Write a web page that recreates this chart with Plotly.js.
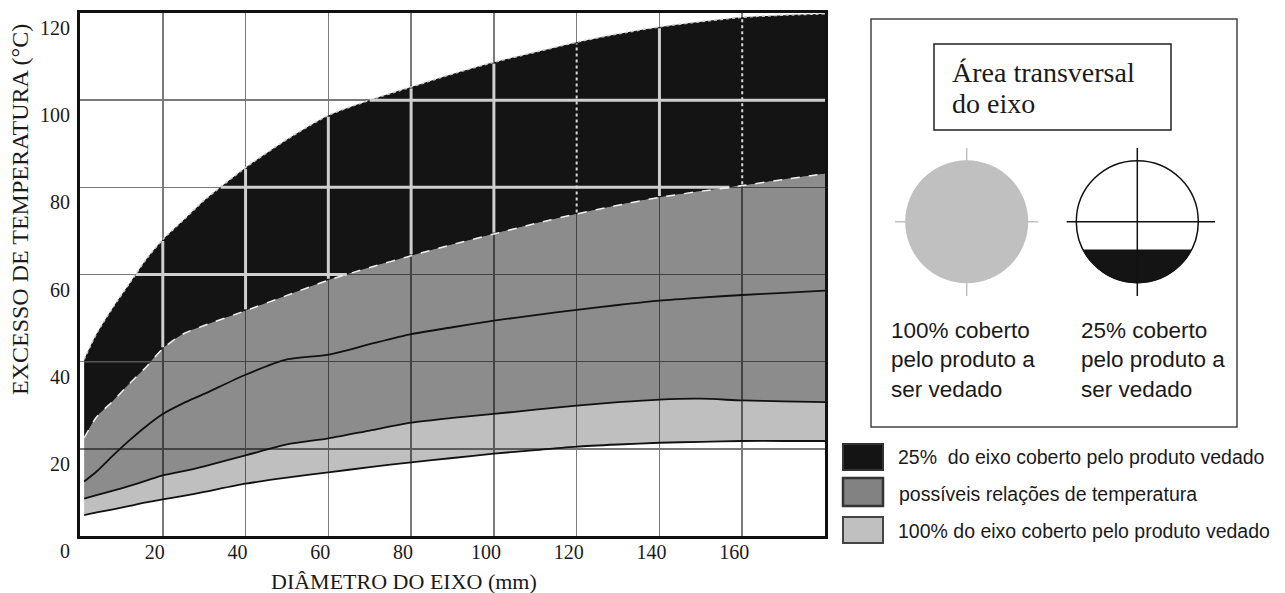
<!DOCTYPE html>
<html>
<head>
<meta charset="utf-8">
<script src="https://cdn.plot.ly/plotly-3.0.1.min.js"></script>
<style>html,body{margin:0;padding:0;background:#fff;}#chart{width:1285px;height:593px;}</style>
</head>
<body>
<div id="chart"></div>
<script>
// ---- data ----
const DIAMETER = [1,4,8,12,16,20,25,30,40,50,60,70,80,90,100,110,120,130,140,150,160,170,180];
// upper limit of the 25%-covered band (top of black area)
const UPPER_25 = [40.5,46.4,52.5,58,63.5,68,72.5,77,84.5,91,96.5,100,103,106,108.7,111,113.3,115.2,116.8,118,119,119.5,119.8];
// lower limit of the 25%-covered band (top of the dark grey area)
const LOWER_25 = [22.5,27.3,31,35,38.8,43,46.4,48.3,51.7,55.2,58.7,61.6,64.3,66.9,69.3,71.7,73.9,75.9,77.7,79.1,80.4,81.8,83.1];
// middle curve inside the "possible relations" area
const MIDDLE = [12.5,14.8,18.5,22,25.2,28,30.5,32.6,37,40.5,41.6,44,46.3,47.9,49.4,50.7,51.9,53,54,54.7,55.3,55.8,56.3];
// upper limit of the 100%-covered band
const UPPER_100 = [8.6,9.4,10.4,11.5,12.7,13.9,14.9,16,18.5,21,22.4,24.2,26,27.1,28,29,29.9,30.7,31.3,31.5,31.1,30.9,30.7];
// lower limit of the 100%-covered band
const LOWER_100 = [4.8,5.4,6.1,6.9,7.7,8.4,9.2,10.1,12,13.4,14.6,15.8,16.9,17.9,18.9,19.7,20.5,21,21.4,21.6,21.8,21.8,21.8];

const X_TICKS = [20,40,60,80,100,120,140,160];
const X_TICK_TEXT = ['20','40','60','80','100','120','140','160'];
const Y_TICKS = [0,20,40,60,80,100,120];
const Y_TICK_TEXT = ['0','20','40','60','80','100','120'];

const LEGEND_LABELS = ['25%  do eixo coberto pelo produto vedado','possíveis relações de temperatura','100% do eixo coberto pelo produto vedado'];
const X_TITLE = 'DIÂMETRO DO EIXO (mm)';
const Y_TITLE = 'EXCESSO DE TEMPERATURA (°C)';

// ---- helpers ----
function valAt(xs, ys, x){
  for (let i=0;i<xs.length-1;i++){
    if (x>=xs[i] && x<=xs[i+1]){ const t=(x-xs[i])/(xs[i+1]-xs[i]); return ys[i]+t*(ys[i+1]-ys[i]); }
  }
  return x<xs[0]?ys[0]:ys[ys.length-1];
}
function crossAt(xs, ys, y){
  for (let i=0;i<xs.length-1;i++){
    if ((ys[i]-y)*(ys[i+1]-y)<=0 && ys[i]!==ys[i+1]){ const t=(y-ys[i])/(ys[i+1]-ys[i]); return xs[i]+t*(xs[i+1]-xs[i]); }
  }
  return null;
}
const XMAX = 180;
// light grid segments inside the black band
const lightX=[], lightY=[], dotX=[], dotY=[], darkX=[], darkY=[];
X_TICKS.forEach(function(xv){
  const a=valAt(DIAMETER,LOWER_25,xv)+0.3, b=valAt(DIAMETER,UPPER_25,xv)-0.3;
  const tx = (xv===120||xv===160)?dotX:lightX, ty=(xv===120||xv===160)?dotY:lightY;
  tx.push(xv,xv,null); ty.push(a,b,null);
});
[40,60,80,100].forEach(function(yv){
  let xa = crossAt(DIAMETER,UPPER_25,yv); if (xa===null) xa = DIAMETER[0];
  let xb = crossAt(DIAMETER,LOWER_25,yv); if (xb===null) xb = XMAX;
  const tx = yv===40?darkX:lightX, ty = yv===40?darkY:lightY;
  tx.push(xa,xb,null); ty.push(yv,yv,null);
});

const SP = {shape:'spline',smoothing:0.7};
function ln(o){return Object.assign({shape:'spline',smoothing:0.7},o);}
const traces = [
  {x:DIAMETER,y:LOWER_100,mode:'lines',line:ln({width:0}),hoverinfo:'skip',showlegend:false},
  {x:DIAMETER,y:UPPER_100,mode:'lines',line:ln({width:0}),fill:'tonexty',fillcolor:'rgba(0,0,0,0.25)',hoverinfo:'skip',showlegend:false},
  {x:DIAMETER,y:LOWER_25,mode:'lines',line:ln({width:0}),fill:'tonexty',fillcolor:'rgba(0,0,0,0.45)',hoverinfo:'skip',showlegend:false},
  {x:DIAMETER,y:UPPER_25,mode:'lines',line:ln({width:0}),fill:'tonexty',fillcolor:'#141414',hoverinfo:'skip',showlegend:false},
  {x:lightX,y:lightY,mode:'lines',line:{color:'#cfcfcf',width:3},connectgaps:false,hoverinfo:'skip',showlegend:false},
  {x:dotX,y:dotY,mode:'lines',line:{color:'#d8d8d8',width:2,dash:'dot'},connectgaps:false,hoverinfo:'skip',showlegend:false},
  {x:darkX,y:darkY,mode:'lines',line:{color:'#555',width:1.5},connectgaps:false,hoverinfo:'skip',showlegend:false},
  {x:DIAMETER,y:LOWER_100,mode:'lines',line:ln({color:'#111',width:1.8}),showlegend:false},
  {x:DIAMETER,y:UPPER_100,mode:'lines',line:ln({color:'#111',width:1.8}),showlegend:false},
  {x:DIAMETER,y:MIDDLE,mode:'lines',line:ln({color:'#111',width:1.8}),showlegend:false},
  {x:DIAMETER,y:LOWER_25,mode:'lines',line:ln({color:'#f0f0f0',width:1.5,dash:'dash'}),showlegend:false},
  {x:DIAMETER,y:UPPER_25,mode:'lines',line:ln({color:'#c8c8c8',width:1.5,dash:'dot'}),showlegend:false}
];

// ---- layout geometry (pixels -> paper) ----
const L=80, T=13, W=745, H=523;
function px(x){return (x-L)/W;}
function py(y){return (T+H-y)/H;}

const shapes = [];
function rect(x0,y0,x1,y1,fill,lc,lw){shapes.push({type:'rect',xref:'paper',yref:'paper',x0:px(x0),x1:px(x1),y0:py(y1),y1:py(y0),fillcolor:fill,line:{color:lc,width:lw}});}
function seg(x0,y0,x1,y1,c,w){shapes.push({type:'line',xref:'paper',yref:'paper',x0:px(x0),x1:px(x1),y0:py(y0),y1:py(y1),line:{color:c,width:w}});}
function circ(cx,cy,r,fill,lc,lw){shapes.push({type:'circle',xref:'paper',yref:'paper',x0:px(cx-r),x1:px(cx+r),y0:py(cy+r),y1:py(cy-r),fillcolor:fill,line:{color:lc,width:lw}});}

rect(871,19,1237,427,'rgba(0,0,0,0)','#444',1.5);
rect(934,44,1171,130,'rgba(0,0,0,0)','#222',1.5);
// left disk (100% covered)
seg(895,221.7,1038,221.7,'#c0c0c0',1.5);
seg(966.7,148,966.7,296,'#c0c0c0',1.5);
circ(966.7,221.7,61.5,'#c0c0c0','#c0c0c0',0);
// right disk (25% covered)
const cx2=1137.3, cy2=221.7, r2=61;
circ(cx2,cy2,r2,'#fff','#111',1.5);
(function(){
  const d=28.3, a0=Math.asin(d/r2), a1=Math.PI-a0, n=40; let p='';
  for(let i=0;i<=n;i++){const a=a0+(a1-a0)*i/n; const X=cx2+r2*Math.cos(a), Y=cy2+r2*Math.sin(a); p+=(i===0?'M':'L')+px(X)+','+py(Y);} 
  p+='Z';
  shapes.push({type:'path',xref:'paper',yref:'paper',path:p,fillcolor:'#141414',line:{color:'#141414',width:1}});
})();
seg(1066.7,221.7,1215,221.7,'#111',1.5);
seg(cx2,148,cx2,296,'#111',1.5);
// legend boxes
rect(843,444,883,470,'#141414','#333',2);
rect(843,478,883,506,'#828282','#333',2.5);
rect(843,517,883,543,'#c0c0c0','#444',2);

const serif='"Liberation Serif", "Times New Roman", serif';
const sans='"Liberation Sans", Arial, sans-serif';
function ann(text,x,y,size,fam,opts){return Object.assign({text:text,xref:'paper',yref:'paper',x:px(x),y:py(y),xanchor:'left',yanchor:'middle',showarrow:false,font:{family:fam,size:size,color:'#1a1a1a'},align:'left'},opts||{});}
const annotations=[
  ann(Y_TITLE,20,210,24,serif,{textangle:-90,xanchor:'center'}),
  ann(X_TITLE,404,581,22,serif,{xanchor:'center'}),
  ann('Área transversal',950,72,28,serif),
  ann('do eixo',950,103,28,serif),
  ann('100% coberto<br>pelo produto a<br>ser vedado',889,360,22.5,sans),
  ann('25% coberto<br>pelo produto a<br>ser vedado',1079,360,22.5,sans),
  ann(LEGEND_LABELS[0],896,457,19.5,sans),
  ann(LEGEND_LABELS[1],897,494,19.5,sans),
  ann(LEGEND_LABELS[2],896,531,19.5,sans)
];

const layout={
  width:1285,height:593,
  margin:{l:L,r:1285-L-W,t:T,b:593-T-H,pad:0},
  paper_bgcolor:'#fff',plot_bgcolor:'#fff',
  showlegend:false,
  xaxis:{range:[0,180],tickvals:X_TICKS,ticktext:X_TICK_TEXT,showgrid:true,gridcolor:'#7a7a7a',gridwidth:1.5,zeroline:false,showline:true,mirror:true,linecolor:'#111',linewidth:3,ticks:'',ticklabelshift:-8,ticklabelstandoff:-4,tickfont:{family:serif,size:20,color:'#1a1a1a'},fixedrange:true},
  yaxis:{range:[0,120],tickvals:Y_TICKS,ticktext:Y_TICK_TEXT,showgrid:true,gridcolor:'#7a7a7a',gridwidth:1.5,zeroline:false,showline:true,mirror:true,linecolor:'#111',linewidth:3,ticks:'',ticklabelshift:15,ticklabelstandoff:3,tickfont:{family:serif,size:20,color:'#1a1a1a'},fixedrange:true},
  shapes:shapes,
  annotations:annotations
};
Plotly.newPlot('chart',traces,layout,{displayModeBar:false,staticPlot:true});
</script>
</body>
</html>
